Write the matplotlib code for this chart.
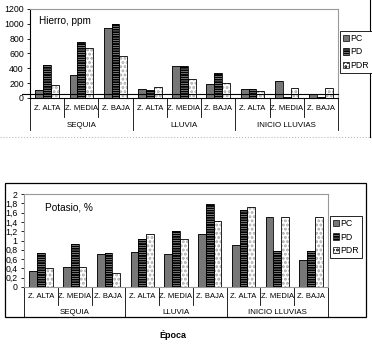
import matplotlib
matplotlib.use("Agg")
import matplotlib.pyplot as plt
from matplotlib.patches import Patch, Rectangle
from matplotlib.lines import Line2D
import numpy as np

plt.rcParams['font.family'] = ['Liberation Sans', 'DejaVu Sans']
plt.rcParams['hatch.linewidth'] = 1.4

zonas = ["Z. ALTA", "Z. MEDIA", "Z. BAJA"] * 3
epocas = ["SEQUIA", "LLUVIA", "INICIO LLUVIAS"]
series = ["PC", "PD", "PDR"]

hierro_pc = [110, 315, 940, 115, 435, 190, 125, 235, 55]
hierro_pd = [450, 760, 1000, 110, 435, 335, 115, 20, 20]
hierro_pdr = [180, 670, 565, 155, 260, 205, 100, 135, 135]
hierro_ref = 55

potasio_pc = [0.35, 0.42, 0.72, 0.76, 0.72, 1.13, 0.90, 1.50, 0.58]
potasio_pd = [0.73, 0.93, 0.73, 1.04, 1.20, 1.78, 1.65, 0.78, 0.78]
potasio_pdr = [0.41, 0.42, 0.31, 1.13, 1.04, 1.41, 1.71, 1.51, 1.51]

W, H = 372, 344
fig = plt.figure(figsize=(W / 100, H / 100), dpi=100)

styles = [
    dict(facecolor="#777777", hatch=None, hc="#777777"),
    dict(facecolor="white", hatch="-------", hc="black"),
    dict(facecolor="white", hatch="....", hc="#aaaaaa"),
]


def px_axes(left, top, right, bottom):
    return fig.add_axes([left / W, (H - bottom) / H, (right - left) / W, (bottom - top) / H])


def draw_panel(ax, data, h_px, rows, title, title_xy):
    x = np.arange(len(zonas))
    w = 0.23
    for k, vals in enumerate(data):
        st = styles[k]
        pos = x + (k - 1) * w
        ax.bar(pos, vals, w, color=st["facecolor"], hatch=st["hatch"],
               edgecolor=st["hc"], linewidth=0, zorder=2)
        ax.bar(pos, vals, w, fill=False, edgecolor="black", linewidth=0.6, zorder=3)
    ax.set_xlim(-0.5, len(zonas) - 0.5)
    ax.set_xticks([])
    for s in ["top", "right"]:
        ax.spines[s].set_color("#999999")
    ax.spines["left"].set_linewidth(0.8)
    ax.spines["bottom"].set_linewidth(0.8)
    ax.tick_params(axis="y", labelsize=6.3, length=2.5, width=0.6, pad=2)
    tr = ax.get_xaxis_transform()
    r1, s1, r2, s2 = [-v / h_px for v in rows]
    for i, z in enumerate(zonas):
        ax.text(i, r1, z, transform=tr, ha="center", va="center", fontsize=5.5)
    for b in range(len(zonas) + 1):
        end = s2 if b % 3 == 0 else s1
        ax.plot([b - 0.5, b - 0.5], [0, end], transform=tr, color="black",
                lw=0.6, clip_on=False)
    for g, e in enumerate(epocas):
        ax.text(3 * g + 1, r2, e, transform=tr, ha="center", va="center", fontsize=5.7)
    ax.text(title_xy[0], title_xy[1], title, transform=ax.transAxes,
            fontsize=7.2, va="center", ha="left")


def add_legend(ax, cx, cy):
    handles = [Patch(facecolor=st["facecolor"], hatch=st["hatch"], edgecolor="black",
                     linewidth=0.5) for st in styles]
    leg = fig.legend(handles, series, loc="center",
                     bbox_to_anchor=(cx / W, (H - cy) / H), fontsize=6.3,
                     handlelength=0.7, handleheight=0.7, handletextpad=0.2,
                     borderpad=0.35, labelspacing=0.55, fancybox=False,
                     framealpha=1)
    leg.get_frame().set_edgecolor("black")
    leg.get_frame().set_linewidth(0.6)


# Hierro
ax1 = px_axes(30, 9, 338, 98)
draw_panel(ax1, [hierro_pc, hierro_pd, hierro_pdr], 89, (11, 19, 28, 32),
           "Hierro, ppm", (0.03, 0.87))
ax1.set_ylim(0, 1200)
ax1.set_yticks(range(0, 1201, 200))
ax1.axhline(hierro_ref, xmin=-0.025, xmax=1.0, color="black", lw=0.8,
            clip_on=False, zorder=4)
add_legend(ax1, 356, 52)

# Potasio
ax2 = px_axes(24, 194, 328, 287)
draw_panel(ax2, [potasio_pc, potasio_pd, potasio_pdr], 93, (10, 18, 25, 30),
           "Potasio, %", (0.07, 0.86))
ax2.set_ylim(0, 2)
yt = np.round(np.arange(0, 2.01, 0.2), 1)
ax2.set_yticks(yt)
ax2.set_yticklabels([("%g" % v).replace(".", ",") for v in yt])
ax2.spines["left"].set_color("#999999")
ax2.spines["bottom"].set_color("#999999")
add_legend(ax2, 346, 237)

# outer frames
fig.add_artist(Line2D([370 / W, 370 / W], [(H - 0) / H, (H - 137) / H],
                      color="black", lw=0.8))
fig.add_artist(Line2D([0, 1], [(H - 137) / H] * 2, color="#bbbbbb",
                      lw=0.8, ls=":"))
fig.add_artist(Rectangle((5 / W, (H - 317) / H), 361 / W, 134 / H, fill=False,
                         edgecolor="black", lw=0.9))

fig.text(173 / W, (H - 335) / H, "Época", ha="center", va="center",
         fontsize=6.5, fontweight="bold")

fig.savefig("out.png", dpi=100)
